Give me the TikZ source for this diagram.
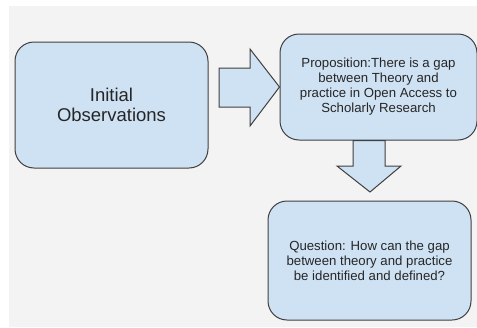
\documentclass[tikz,border=0pt]{standalone}
\usepackage{fontspec}
\setmainfont{Liberation Sans}
\definecolor{boxfill}{HTML}{CFE2F3}
\definecolor{boxline}{HTML}{3F3F3F}
\definecolor{paper}{HTML}{F3F3F3}
\begin{document}
\begin{tikzpicture}[x=1pt,y=-1pt,
  stepbox/.style={draw=boxline,fill=boxfill,line width=1pt,rounded corners=19pt,
    align=center,inner sep=0pt,text=black!85},
  blockarrow/.style={draw=boxline,fill=boxfill,line width=1pt,line join=miter},
  bigtext/.style={font=\fontsize{18.5}{20.5}\selectfont},
  smalltext/.style={font=\fontsize{13.2}{15}\selectfont}]
  \useasboundingbox (0,0) rectangle (477,327);
  \fill[white] (0,0) rectangle (477,327);
  \fill[paper] (9,6) rectangle (477,327);

  % three boxes
  \node[stepbox,bigtext,minimum width=193pt,minimum height=126pt] (obs) at (111.5,105)
    {Initial\\Observations};
  \node[stepbox,smalltext,minimum width=197pt,minimum height=106pt] (prop) at (378.5,87)
    {Proposition:There is a gap\\between Theory and\\practice in Open Access to\\Scholarly Research};
  \node[stepbox,smalltext,minimum width=203pt,minimum height=119pt] (quest) at (369.5,260.5)
    {Question: How can the gap\\between theory and practice\\be identified and defined?};

  % block arrow from obs to prop
  \draw[blockarrow] (219,68) -- (250,68) -- (250,49) -- (prop.west) -- (250,126)
    -- (250,107) -- (219,107) -- cycle;
  % block arrow from prop to quest
  \coordinate (downtip) at (370,192);
  \draw[blockarrow] (353,140.5) -- (353,166) -- (337,166) -- (downtip) -- (401,166)
    -- (385,166) -- (385,140.5) -- cycle;
\end{tikzpicture}
\end{document}
